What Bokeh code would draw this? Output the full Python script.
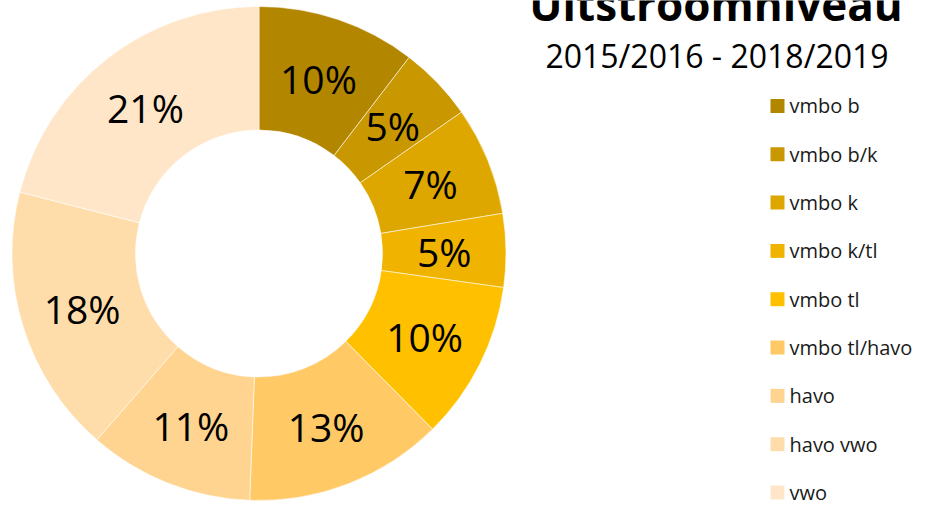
import math
from bokeh.plotting import figure
from bokeh.models import Range1d, ColumnDataSource
from bokeh.core.properties import value
from bokeh.embed import file_html
from bokeh.resources import INLINE

# ---- data ----
categories = ["vmbo b", "vmbo b/k", "vmbo k", "vmbo k/tl", "vmbo tl",
              "vmbo tl/havo", "havo", "havo vwo", "vwo"]
shares = [10.4, 4.9, 7.1, 4.8, 10.4, 13.0, 10.8, 17.6, 21.0]
colors = ["#B38600", "#C99700", "#DDA700", "#F0B400", "#FFC000",
          "#FFC966", "#FFD390", "#FFDDAA", "#FFE6C8"]
title_text = "Uitstroomniveau"
subtitle_text = "2015/2016 - 2018/2019"

W, H = 920, 506
FONT = "Open Sans"

p = figure(width=W, height=H, output_backend="svg", toolbar_location=None,
           x_range=Range1d(0, W), y_range=Range1d(0, H),
           min_border=0, outline_line_color=None)
p.axis.visible = False
p.grid.visible = False
p.background_fill_color = "white"
p.border_fill_color = "white"

cx, cy = 258.5, 253
r_in, r_out = 123.5, 247

total = sum(shares)
starts, ends, lx, ly, labels = [], [], [], [], []
cum = 0.0
for v in shares:
    a0 = math.pi / 2 - 2 * math.pi * cum / total
    cum += v
    a1 = math.pi / 2 - 2 * math.pi * cum / total
    starts.append(a0)
    ends.append(a1)
    mid = (a0 + a1) / 2
    rm = (r_in + r_out) / 2
    lx.append(cx + rm * math.cos(mid))
    ly.append(cy + rm * math.sin(mid))
    labels.append(f"{round(v / total * 100)}%")

src = ColumnDataSource(dict(start=starts, end=ends, color=colors,
                            lx=lx, ly=ly, label=labels, cat=categories))

p.annular_wedge(x=cx, y=cy, inner_radius=r_in, outer_radius=r_out,
                inner_radius_units="screen", outer_radius_units="screen",
                start_angle="start", end_angle="end", direction="clock",
                fill_color="color", line_color="white", line_width=0.8,
                line_alpha=0.7, source=src)

p.text(x="lx", y="ly", text="label", source=src, text_align="center",
       text_baseline="middle", text_font=value(FONT),
       text_font_size="39px", text_color="black")

# title / subtitle
p.text(x=[715.5], y=[503], text=[title_text], text_align="center",
       text_baseline="middle", text_font=value(FONT),
       text_font_size="44px", text_font_style="bold", text_color="black")
p.text(x=[716.5], y=[451], text=[subtitle_text], text_align="center",
       text_baseline="middle", text_font=value(FONT),
       text_font_size="32px", text_color="black")

# legend
n = len(categories)
top_y, bot_y = 400.6, 14
step = (top_y - bot_y) / (n - 1)
leg_y = [top_y - i * step for i in range(n)]
leg = ColumnDataSource(dict(x=[777] * n, tx=[789] * n, y=leg_y,
                            color=colors, cat=categories))
p.scatter(x="x", y="y", marker="square", size=14, fill_color="color",
          line_color=None, source=leg)
p.text(x="tx", y="y", text="cat", source=leg, text_align="left",
       text_baseline="middle", text_font=value(FONT),
       text_font_size="20px", text_color="#1a1a1a")

open("out.html", "w").write(file_html(p, INLINE))
